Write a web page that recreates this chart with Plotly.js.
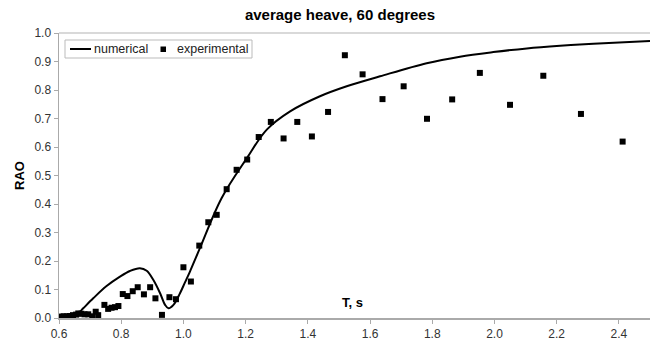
<!DOCTYPE html>
<html>
<head>
<meta charset="utf-8">
<script src="https://cdn.plot.ly/plotly-3.0.1.min.js"></script>
<style>html,body{margin:0;padding:0;background:#fff;}#chart{width:650px;height:341px;}</style>
</head>
<body>
<div id="chart"></div>
<script>
// Numerical RAO curve
var numT = [0.60, 0.62, 0.646, 0.667, 0.678, 0.710, 0.753, 0.796, 0.828, 0.860, 0.882, 0.903, 0.925, 0.941, 0.952, 0.968, 0.989, 1.005, 1.021, 1.053, 1.123, 1.204, 1.268, 1.343, 1.439, 1.525, 1.632, 1.782, 1.889, 1.996, 2.104, 2.211, 2.318, 2.500];
var numRAO = [0.002, 0.003, 0.007, 0.022, 0.034, 0.069, 0.112, 0.145, 0.165, 0.175, 0.166, 0.134, 0.087, 0.046, 0.034, 0.046, 0.087, 0.125, 0.163, 0.245, 0.421, 0.561, 0.661, 0.725, 0.778, 0.813, 0.848, 0.894, 0.917, 0.933, 0.946, 0.955, 0.962, 0.972];

// Experimental RAO points
var expT = [0.605, 0.615, 0.625, 0.635, 0.645, 0.655, 0.662, 0.672, 0.682, 0.694, 0.707, 0.718, 0.726, 0.746, 0.758, 0.769, 0.780, 0.791, 0.805, 0.820, 0.837, 0.853, 0.873, 0.893, 0.910, 0.931, 0.955, 0.976, 1.000, 1.024, 1.051, 1.080, 1.107, 1.139, 1.171, 1.205, 1.242, 1.281, 1.322, 1.366, 1.413, 1.465, 1.519, 1.576, 1.640, 1.708, 1.783, 1.864, 1.953, 2.050, 2.157, 2.278, 2.412];
var expRAO = [0.005, 0.006, 0.006, 0.007, 0.010, 0.012, 0.016, 0.015, 0.013, 0.013, 0.006, 0.022, 0.010, 0.046, 0.032, 0.036, 0.038, 0.042, 0.084, 0.077, 0.094, 0.108, 0.083, 0.108, 0.069, 0.011, 0.073, 0.066, 0.178, 0.128, 0.254, 0.336, 0.362, 0.452, 0.520, 0.556, 0.635, 0.688, 0.630, 0.688, 0.637, 0.723, 0.922, 0.855, 0.768, 0.813, 0.699, 0.767, 0.860, 0.748, 0.850, 0.716, 0.619];

var xTicks = [0.6, 0.8, 1.0, 1.2, 1.4, 1.6, 1.8, 2.0, 2.2, 2.4];
var yTicks = [0.0, 0.1, 0.2, 0.3, 0.4, 0.5, 0.6, 0.7, 0.8, 0.9, 1.0];
var seriesNames = ['numerical', 'experimental'];

// plot-area geometry (pixels) used to place the custom legend
var M = {l: 59, r: 0, t: 33, b: 23};
var W = 650, H = 341;
var PW = W - M.l - M.r, PH = H - M.t - M.b;
function px(x) { return (x - M.l) / PW; }
function py(y) { return (H - M.b - y) / PH; }

var traces = [
  {x: numT, y: numRAO, type: 'scatter', mode: 'lines', name: seriesNames[0],
   line: {color: '#000', width: 2, shape: 'spline', smoothing: 1}},
  {x: expT, y: expRAO, type: 'scatter', mode: 'markers', name: seriesNames[1],
   marker: {symbol: 'square', size: 6, color: '#000'}}
];

var layout = {
  width: W, height: H,
  margin: {l: M.l, r: M.r, t: M.t, b: M.b, pad: 0},
  paper_bgcolor: '#fff', plot_bgcolor: '#fff',
  font: {family: 'Liberation Sans, Arial, sans-serif', size: 12, color: '#333'},
  showlegend: false,
  title: {text: '<b>average heave, 60 degrees</b>', font: {size: 15, color: '#000'},
          x: 0.523, xref: 'container', xanchor: 'center', y: 0.956, yanchor: 'middle'},
  xaxis: {range: [0.6, 2.5], tickvals: xTicks, ticktext: xTicks.map(function(v){return v.toFixed(1);}),
          ticks: 'outside', ticklen: 4, tickcolor: '#aaa', showgrid: false, zeroline: false,
          showline: true, linecolor: '#aaa', linewidth: 1.5, tickfont: {size: 12, color: '#333'}},
  yaxis: {range: [0, 1.0], tickvals: yTicks, ticktext: yTicks.map(function(v){return v.toFixed(1);}),
          ticks: 'outside', ticklen: 4, tickcolor: '#aaa', showgrid: false, zeroline: false,
          showline: true, linecolor: '#aaa', linewidth: 1.5,
          title: {text: '<b>RAO</b>', font: {size: 13, color: '#000'}, standoff: 7},
          tickfont: {size: 12, color: '#333'}},
  shapes: [
    {type: 'line', xref: 'paper', yref: 'paper', x0: 0, x1: 1, y0: 1, y1: 1,
     line: {color: '#ccc', width: 1.5}},
    // legend box
    {type: 'rect', xref: 'paper', yref: 'paper', x0: px(65), x1: px(252), y0: py(40), y1: py(58),
     line: {color: '#bbb', width: 1}, fillcolor: '#fff'},
    // legend line sample
    {type: 'line', xref: 'paper', yref: 'paper', x0: px(70), x1: px(91), y0: py(49), y1: py(49),
     line: {color: '#000', width: 2}},
    // legend marker sample
    {type: 'rect', xref: 'paper', yref: 'paper', x0: px(160.5), x1: px(166), y0: py(46.5), y1: py(52),
     line: {color: '#000', width: 0}, fillcolor: '#000'}
  ],
  annotations: [
    {text: '<b>T, s</b>', xref: 'x', yref: 'y', x: 1.542, y: 0.053,
     showarrow: false, font: {size: 13, color: '#000'}},
    {text: seriesNames[0], xref: 'paper', yref: 'paper', x: px(92), y: py(49), xanchor: 'left', yanchor: 'middle',
     showarrow: false, font: {size: 12.5, color: '#222'}},
    {text: seriesNames[1], xref: 'paper', yref: 'paper', x: px(175), y: py(49), xanchor: 'left', yanchor: 'middle',
     showarrow: false, font: {size: 12.5, color: '#222'}}
  ]
};

Plotly.newPlot('chart', traces, layout, {staticPlot: true, displayModeBar: false});
</script>
</body>
</html>
